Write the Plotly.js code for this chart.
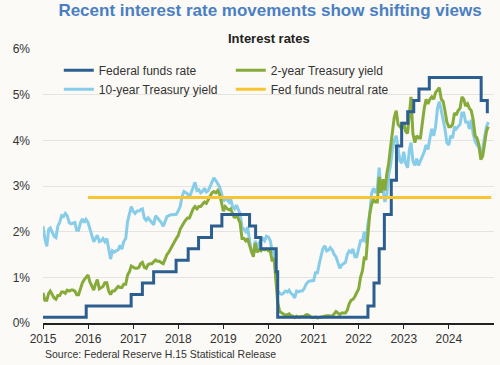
<!DOCTYPE html>
<html>
<head>
<meta charset="utf-8">
<script src="https://cdn.plot.ly/plotly-3.0.1.min.js"></script>
<style>
  html, body { margin: 0; padding: 0; background: #fbfaf6; }
  #chart { width: 500px; height: 365px; }
</style>
</head>
<body>
<div id="chart"></div>
<script>
// Semi-monthly observations (1st and 16th of each month), Jan 2015 - Nov 2024
const startYear = 2015;
const nMonths = 119;

const tenYear = [
  // 2015
  2.12,1.85, 1.68,2.05, 2.08,1.98, 1.90,1.87, 2.12,2.20, 2.35,2.33, 2.40,2.35, 2.20,2.17, 2.18,2.20, 2.03,2.03, 2.20,2.28, 2.20,2.27,
  // 2016
  2.20,2.05, 1.95,1.78, 1.85,1.92, 1.78,1.80, 1.85,1.78, 1.85,1.60, 1.40,1.58, 1.55,1.58, 1.60,1.70, 1.62,1.78, 1.85,2.22, 2.40,2.55,
  // 2017
  2.45,2.40, 2.45,2.45, 2.48,2.50, 2.30,2.25, 2.30,2.25, 2.20,2.15, 2.35,2.30, 2.25,2.20, 2.12,2.22, 2.33,2.35, 2.37,2.37, 2.37,2.38,
  // 2018
  2.46,2.55, 2.78,2.88, 2.86,2.83, 2.75,2.85, 2.97,3.08, 2.90,2.92, 2.85,2.88, 2.95,2.87, 2.90,3.00, 3.08,3.18, 3.12,3.05, 2.98,2.85,
  // 2019
  2.66,2.72, 2.70,2.65, 2.72,2.55, 2.50,2.58, 2.50,2.40, 2.10,2.05, 2.00,2.10, 1.85,1.55, 1.50,1.80, 1.60,1.75, 1.80,1.85, 1.80,1.90,
  // 2020
  1.88,1.80, 1.55,1.58, 1.00,0.70, 0.65,0.63, 0.65,0.70, 0.68,0.72, 0.65,0.62, 0.55,0.70, 0.68,0.70, 0.70,0.75, 0.85,0.90, 0.92,0.93,
  // 2021
  0.93,1.10, 1.10,1.30, 1.45,1.62, 1.69,1.58, 1.60,1.65, 1.60,1.50, 1.45,1.30, 1.20,1.27, 1.30,1.33, 1.50,1.58, 1.55,1.62, 1.45,1.45,
  // 2022
  1.63,1.80, 1.80,2.00, 1.75,2.15, 2.40,2.85, 2.95,2.85, 2.95,3.40, 2.90,2.95, 2.65,2.80, 3.25,3.45, 3.80,4.00, 4.10,3.80, 3.55,3.50,
  // 2023
  3.75,3.50, 3.40,3.80, 3.95,3.55, 3.45,3.60, 3.45,3.55, 3.65,3.75, 3.90,3.80, 4.05,4.25, 4.10,4.30, 4.70,4.85, 4.65,4.45, 4.25,3.95,
  // 2024
  3.90,4.10, 4.05,4.30, 4.25,4.30, 4.35,4.60, 4.60,4.40, 4.40,4.25, 4.45,4.15, 3.98,3.90, 3.85,3.65, 3.80,4.05, 4.30,4.40
];

const twoYear = [
  // 2015
  0.66,0.50, 0.50,0.65, 0.70,0.62, 0.55,0.52, 0.60,0.60, 0.68,0.68, 0.65,0.72, 0.70,0.72, 0.72,0.70, 0.62,0.62, 0.75,0.88, 0.95,1.00,
  // 2016
  1.05,0.90, 0.80,0.72, 0.85,0.95, 0.75,0.78, 0.80,0.88, 0.88,0.70, 0.62,0.70, 0.70,0.75, 0.80,0.78, 0.78,0.85, 0.85,1.05, 1.12,1.25,
  // 2017
  1.22,1.20, 1.20,1.22, 1.30,1.33, 1.22,1.20, 1.28,1.30, 1.30,1.35, 1.38,1.35, 1.35,1.32, 1.30,1.40, 1.50,1.55, 1.62,1.70, 1.78,1.85,
  // 2018
  1.92,2.05, 2.14,2.20, 2.25,2.30, 2.30,2.40, 2.50,2.55, 2.50,2.55, 2.55,2.60, 2.65,2.62, 2.70,2.80, 2.85,2.88, 2.85,2.90, 2.82,2.65,
  // 2019
  2.45,2.55, 2.50,2.48, 2.50,2.40, 2.30,2.38, 2.30,2.20, 1.85,1.85, 1.80,1.85, 1.70,1.55, 1.45,1.75, 1.55,1.60, 1.58,1.62, 1.60,1.62,
  // 2020
  1.58,1.58, 1.35,1.42, 0.85,0.45, 0.25,0.22, 0.20,0.17, 0.18,0.20, 0.16,0.15, 0.12,0.15, 0.13,0.14, 0.14,0.15, 0.18,0.18, 0.15,0.12,
  // 2021
  0.12,0.13, 0.11,0.12, 0.14,0.15, 0.16,0.16, 0.16,0.15, 0.15,0.20, 0.25,0.22, 0.18,0.22, 0.22,0.22, 0.28,0.42, 0.50,0.52, 0.58,0.65,
  // 2022
  0.75,1.00, 1.15,1.45, 1.38,1.90, 2.40,2.60, 2.70,2.65, 2.65,3.20, 2.85,3.15, 2.90,3.25, 3.50,3.85, 4.20,4.50, 4.65,4.35, 4.30,4.25,
  // 2023
  4.40,4.20, 4.15,4.60, 4.95,4.15, 3.95,4.10, 4.05,4.05, 4.45,4.70, 4.90,4.80, 4.90,4.95, 4.90,5.05, 5.10,5.15, 4.90,4.85, 4.65,4.40,
  // 2024
  4.30,4.30, 4.35,4.60, 4.55,4.65, 4.70,4.95, 4.90,4.75, 4.80,4.70, 4.65,4.45, 4.10,4.05, 3.90,3.58, 3.65,3.95, 4.20,4.30
];

// Federal funds target range midpoint (step changes)
const fedDates = ['2015-01-01','2015-12-17','2016-12-15','2017-03-16','2017-06-15','2017-12-14',
  '2018-03-22','2018-06-14','2018-09-27','2018-12-20','2019-08-01','2019-09-19','2019-10-31',
  '2020-03-04','2020-03-16','2022-03-17','2022-05-05','2022-06-16','2022-07-28','2022-09-22',
  '2022-11-03','2022-12-15','2023-02-02','2023-03-23','2023-05-04','2023-07-27','2024-09-19',
  '2024-11-08','2024-11-20'];
const fedValues = [0.125,0.375,0.625,0.875,1.125,1.375,
  1.625,1.875,2.125,2.375,2.125,1.875,1.625,
  1.125,0.125,0.375,0.875,1.625,2.375,3.125,
  3.875,4.375,4.625,4.875,5.125,5.375,4.875,
  4.625,4.625];

const neutralDates = ['2016-01-01','2024-12-10'];
const neutralValues = [2.75, 2.75];

const yTickVals = [0,1,2,3,4,5,6];
const yTickText = ['0%','1%','2%','3%','4%','5%','6%'];
const xTickVals = ['2015-01-01','2016-01-01','2017-01-01','2018-01-01','2019-01-01',
  '2020-01-01','2021-01-01','2022-01-01','2023-01-01','2024-01-01'];
const xTickText = ['2015','2016','2017','2018','2019','2020','2021','2022','2023','2024'];

// semi-monthly date labels
const yieldDates = [];
for (let m = 0; m < nMonths; m++) {
  const y = startYear + Math.floor(m / 12);
  const mo = String(m % 12 + 1).padStart(2, '0');
  yieldDates.push(`${y}-${mo}-01`, `${y}-${mo}-16`);
}

const FONT = 'Liberation Sans, Arial, Helvetica, sans-serif';

const traces = [
  { x: yieldDates, y: tenYear, type: 'scatter', mode: 'lines', name: '10-year Treasury yield',
    line: { color: '#87cce9', width: 3 }, legendrank: 3 },
  { x: yieldDates, y: twoYear, type: 'scatter', mode: 'lines', name: '2-year Treasury yield',
    line: { color: '#86ab3a', width: 3 }, legendrank: 2 },
  { x: fedDates, y: fedValues, type: 'scatter', mode: 'lines', name: 'Federal funds rate',
    line: { color: '#2c5f8f', width: 3, shape: 'hv' }, legendrank: 1 },
  { x: neutralDates, y: neutralValues, type: 'scatter', mode: 'lines', name: 'Fed funds neutral rate',
    line: { color: '#f8c532', width: 3 }, legendrank: 4 }
];

const layout = {
  width: 500, height: 365,
  paper_bgcolor: '#fbfaf6', plot_bgcolor: '#fbfaf6',
  margin: { l: 43, r: 6, t: 49, b: 42 },
  font: { family: FONT, size: 12, color: '#333' },
  title: { text: '<b>Recent interest rate movements show shifting views</b>',
    font: { family: FONT, size: 17, color: '#4a7fc3' },
    x: 0.54, xanchor: 'center', y: 0.99, yanchor: 'top' },
  showlegend: true,
  legend: { orientation: 'h', x: 0.035, xanchor: 'left', y: 0.975, yanchor: 'top',
    entrywidth: 127, entrywidthmode: 'pixels', bgcolor: 'rgba(0,0,0,0)',
    font: { family: FONT, size: 12, color: '#333' }, tracegroupgap: 0, itemwidth: 30 },
  xaxis: { type: 'date', range: ['2015-01-01', '2025-01-01'], tickvals: xTickVals, ticktext: xTickText,
    ticks: 'outside', ticklen: 4, tickcolor: '#222', showgrid: false,
    showline: true, linecolor: '#222', linewidth: 1.5, zeroline: false,
    tickfont: { family: FONT, size: 12, color: '#333' } },
  yaxis: { range: [0, 6], tickvals: yTickVals, ticktext: yTickText, showgrid: true,
    gridcolor: '#e6e4e0', gridwidth: 1, zeroline: false, showline: false, ticks: '',
    ticklabelstandoff: 12,
    tickfont: { family: FONT, size: 12, color: '#333' } },
  annotations: [
    { text: '<b>Interest rates</b>', xref: 'paper', yref: 'paper', x: 0.5, y: 1.0, yshift: 1,
      xanchor: 'center', yanchor: 'bottom', showarrow: false,
      font: { family: FONT, size: 13, color: '#222' } },
    { text: 'Source: Federal Reserve H.15 Statistical Release', xref: 'paper', yref: 'paper',
      x: 0, y: 0, yshift: -23, xanchor: 'left', yanchor: 'top', showarrow: false,
      font: { family: FONT, size: 10.5, color: '#333' } }
  ]
};

Plotly.newPlot('chart', traces, layout, { displayModeBar: false, staticPlot: true });
</script>
</body>
</html>
